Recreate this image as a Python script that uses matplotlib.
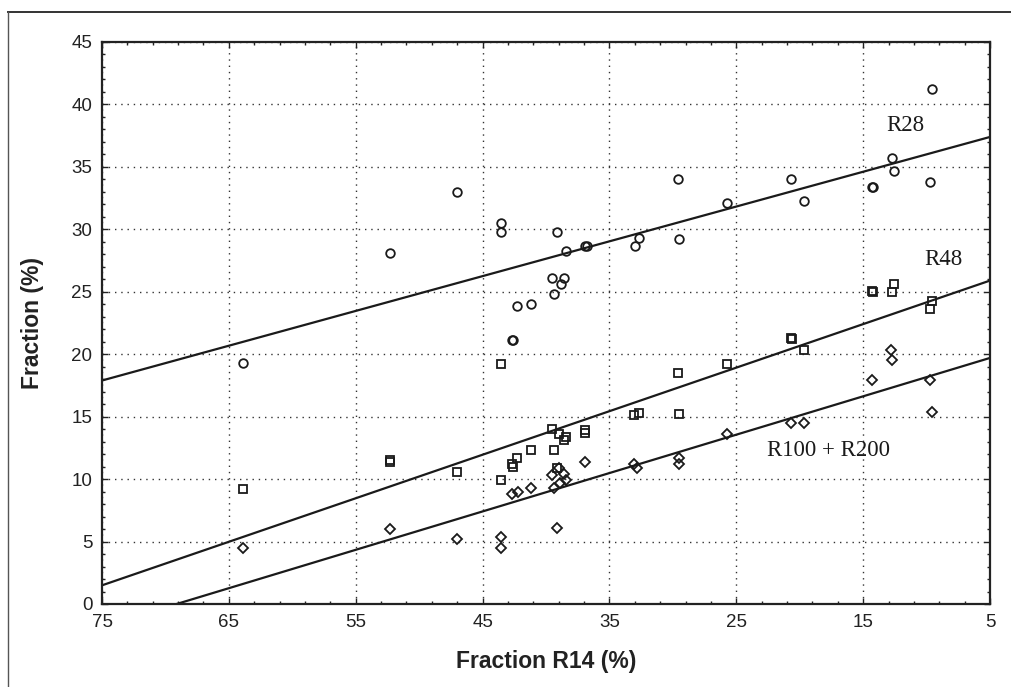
import matplotlib
matplotlib.use("Agg")
import matplotlib.pyplot as plt
from matplotlib import font_manager
from matplotlib.lines import Line2D
import numpy as np

# R14 fraction (x) and the corresponding R28, R48 and R100+R200 fractions (%)
r28_x = [63.9, 52.3, 47.0, 43.56, 43.56, 39.1, 38.4, 36.9, 36.8, 33.0, 32.7, 29.5,
         29.6, 39.56, 38.6, 38.8, 39.4, 42.3, 41.2, 42.7, 42.6, 25.7, 20.7, 19.7,
         9.56, 12.7, 12.6, 9.75, 14.3, 14.2]
r28_y = [19.3, 28.1, 33.0, 30.5, 29.8, 29.8, 28.3, 28.7, 28.7, 28.7, 29.3, 29.2,
         34.0, 26.1, 26.1, 25.6, 24.8, 23.9, 24.0, 21.1, 21.1, 32.1, 34.0, 32.3,
         41.2, 35.7, 34.7, 33.8, 33.4, 33.4]

r48_x = [63.9, 52.3, 52.3, 47.0, 43.56, 29.6, 33.1, 32.7, 29.5, 39.56, 39.0, 38.4,
         38.6, 36.9, 36.9, 41.2, 39.4, 42.3, 42.7, 42.6, 43.56, 39.1, 25.7, 20.7,
         20.6, 19.7, 14.3, 14.2, 12.6, 12.7, 9.6, 9.75]
r48_y = [9.2, 11.5, 11.4, 10.6, 19.2, 18.5, 15.1, 15.3, 15.2, 14.0, 13.6, 13.4,
         13.1, 13.9, 13.7, 12.3, 12.3, 11.7, 11.2, 11.0, 9.9, 10.9, 19.2, 21.3,
         21.2, 20.3, 25.1, 25.0, 25.6, 25.0, 24.3, 23.6]

r100_x = [63.9, 52.3, 47.0, 36.9, 39.56, 38.6, 38.9, 38.4, 39.4, 39.0, 42.66, 42.2,
          41.2, 39.1, 43.56, 43.56, 20.7, 19.7, 25.7, 29.5, 29.5, 33.1, 32.8,
          12.8, 12.7, 14.3, 9.75, 9.6]
r100_y = [4.5, 6.0, 5.2, 11.4, 10.3, 10.4, 9.7, 9.9, 9.3, 10.9, 8.8, 9.0,
          9.3, 6.1, 5.4, 4.5, 14.5, 14.5, 13.6, 11.7, 11.2, 11.2, 10.9,
          20.3, 19.5, 17.9, 17.9, 15.4]

# Linear fits y = a + b * x for each fraction
fit_a = {"R28": 38.79, "R48": 27.64, "R100 + R200": 21.24}
fit_b = {"R28": -0.2786, "R48": -0.3486, "R100 + R200": -0.3073}

x_ticks = [75, 65, 55, 45, 35, 25, 15, 5]
y_ticks = [0, 5, 10, 15, 20, 25, 30, 35, 40, 45]

# condensed sans for axis text when available
installed = {f.name for f in font_manager.fontManager.ttflist}
if "Liberation Sans Narrow" in installed:
    sans = ["Liberation Sans Narrow", "Liberation Sans"]
    tick_size, label_size = 15.5, 19
else:
    sans = ["Liberation Sans"]
    tick_size, label_size = 13.5, 16.5

W, H = 1012, 687
fig = plt.figure(figsize=(W / 100, H / 100), dpi=100)
ax = fig.add_axes([102 / W, 1 - 604 / H, (990 - 102) / W, (604 - 42) / H])

mk = dict(linestyle="none", markerfacecolor="none", markeredgecolor="#1a1a1a",
          markeredgewidth=1.3, zorder=3)
ax.plot(r28_x, r28_y, marker="o", markersize=6.2, **mk)
ax.plot(r48_x, r48_y, marker="s", markersize=6.2, **mk)
ax.plot(r100_x, r100_y, marker="D", markersize=5.6, **mk)

xs = np.array([75.0, 5.0])
for name in fit_a:
    ax.plot(xs, fit_a[name] + fit_b[name] * xs, color="#1a1a1a", lw=1.6, zorder=2)

ax.set_xlim(75, 5)
ax.set_ylim(0, 45)
ax.set_xticks(x_ticks)
ax.set_yticks(y_ticks)
ax.set_xticks(np.arange(75, 4, -2), minor=True)
ax.set_yticks(np.arange(0, 46, 1), minor=True)
ax.tick_params(which="both", direction="in", top=True, right=True, color="#222222")
ax.tick_params(which="major", length=4, width=1.0, labelsize=tick_size)
ax.tick_params(axis="x", which="major", pad=7)
ax.tick_params(axis="y", which="major", pad=7)
ax.tick_params(which="minor", length=2.5, width=1.0)
for lab in ax.get_xticklabels() + ax.get_yticklabels():
    lab.set_fontfamily(sans)
    lab.set_color("#222222")

ax.grid(True, which="major", color="#333333", linestyle=(0, (1, 3.5)), linewidth=1.0)
for sp in ax.spines.values():
    sp.set_linewidth(1.6)
    sp.set_color("#222222")

ax.set_xlabel("Fraction R14 (%)", fontsize=label_size, fontweight="bold",
              family=sans, color="#222222")
ax.set_ylabel("Fraction (%)", fontsize=label_size, fontweight="bold",
              family=sans, color="#222222")
ax.xaxis.set_label_coords(0.5, -(650 - 604) / 562)
ax.yaxis.set_label_coords(-(102 - 44) / 888, 0.5)

tk = dict(fontsize=16.5, family="Liberation Serif", color="#1a1a1a",
          ha="center", va="center")
ax.text(11.7, 38.3, "R28", **tk)
ax.text(8.7, 27.6, "R48", **tk)
ax.text(17.7, 12.3, "R100 + R200", **tk)

# page frame around the figure
fig.add_artist(Line2D([8 / W, 1.0], [1 - 12 / H, 1 - 12 / H], color="#333333", lw=1.4))
fig.add_artist(Line2D([8 / W, 8 / W], [0.0, 1 - 12 / H], color="#555555", lw=1.0))

fig.savefig("out.png", dpi=100)
